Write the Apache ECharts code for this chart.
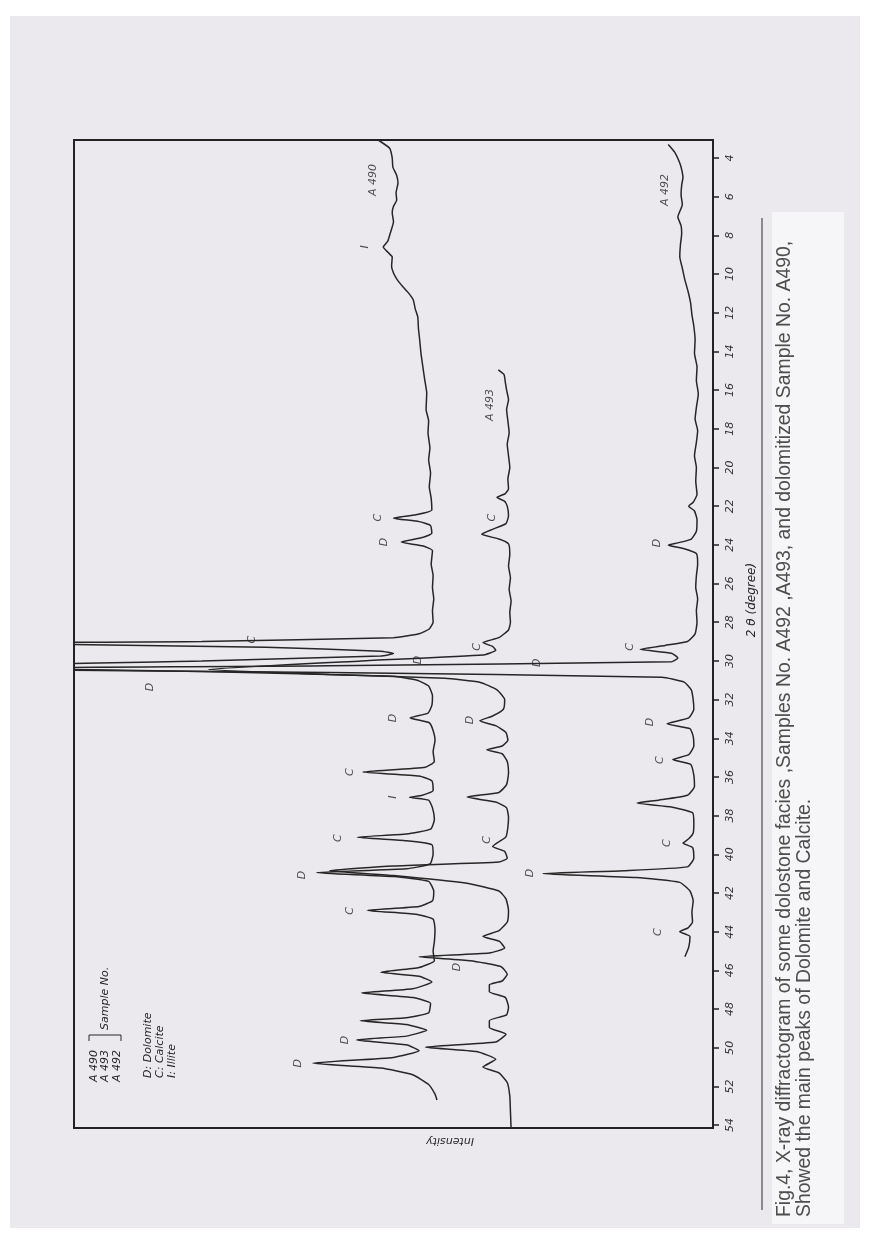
<!DOCTYPE html>
<html>
<head>
<meta charset="utf-8">
<script src="https://cdn.jsdelivr.net/npm/echarts@6/dist/echarts.min.js"></script>
<style>
  html, body { margin: 0; padding: 0; background: #fff; }
  #echarts { width: 886px; height: 1245px; }
</style>
</head>
<body>
<div id="echarts"></div>
<script type="text/javascript">
// 2theta ticks (degree)
var thetaTicks = [4, 6, 8, 10, 12, 14, 16, 18, 20, 22, 24, 26, 28, 30, 32, 34, 36, 38, 40, 42, 44, 46, 48, 50, 52, 54];

// traces: [2theta, intensity]  (intensity 0 = baseline side at the axis, 100 = far side)
var a490 = [
  [3.07, 52.4], [3.5, 50.6], [4.0, 50.2], [4.47, 50.1], [4.9, 49.5], [5.29, 49.3], [5.8, 49.6], [6.17, 49.5],
  [6.5, 50.0], [6.84, 50.2], [7.3, 50.0], [7.88, 50.5], [8.3, 50.9], [8.6, 51.6], [8.9, 50.8], [9.12, 50.2],
  [9.6, 50.3], [9.95, 50.0], [10.3, 49.4], [10.67, 48.5], [11.0, 47.6], [11.34, 46.9], [11.8, 46.6], [12.22, 46.2],
  [12.8, 46.1], [13.41, 45.9], [14.1, 45.7], [14.81, 45.4], [15.5, 45.1], [16.15, 44.8], [17.0, 44.9], [17.6, 44.5],
  [18.2, 44.6], [19.0, 44.3], [19.6, 44.5], [20.3, 44.2], [21.0, 44.4], [21.6, 44.1], [22.2, 44.0], [22.45, 46.5],
  [22.62, 50.0], [22.8, 46.0], [23.0, 44.2], [23.4, 44.0], [23.65, 45.8], [23.86, 48.8], [24.05, 45.5], [24.3, 43.9],
  [25.0, 44.1], [25.6, 43.8], [26.2, 43.9], [26.8, 43.7], [27.4, 43.9], [28.0, 43.8], [28.35, 44.4], [28.6, 46.0],
  [28.8, 50], [29.0, 80], [29.08, 115], [29.3, 70], [29.5, 52], [29.62, 50.0], [29.75, 52], [30.0, 80],
  [30.3, 120], [30.55, 80], [30.8, 50], [31.0, 46.3], [31.3, 44.5], [31.8, 43.9], [32.3, 44.0], [32.7, 44.6],
  [32.95, 47.4], [33.2, 44.4], [33.6, 43.8], [34.1, 43.5], [34.7, 43.8], [35.2, 43.6], [35.5, 45.0], [35.75, 54.8],
  [35.95, 46.0], [36.2, 44.0], [36.7, 43.8], [36.95, 45.5], [37.05, 47.5], [37.2, 44.5], [37.6, 43.9], [38.2, 43.6],
  [38.7, 44.2], [38.95, 48.0], [39.12, 55.7], [39.3, 48.0], [39.5, 44.0], [40.0, 43.8], [40.5, 44.3], [40.75, 48],
  [40.95, 62.0], [41.15, 50], [41.4, 44.5], [41.9, 43.7], [42.4, 43.9], [42.7, 46.0], [42.9, 54.1], [43.1, 46.5],
  [43.35, 43.8], [43.9, 43.5], [44.5, 43.6], [45.0, 43.8], [45.5, 43.6], [45.85, 46], [46.1, 52.0], [46.3, 46],
  [46.6, 44.0], [46.95, 47], [47.17, 55.0], [47.4, 47], [47.7, 44.2], [48.2, 44.5], [48.45, 48], [48.6, 55.2],
  [48.8, 48], [49.1, 44.8], [49.4, 48], [49.6, 55.8], [49.85, 48], [50.15, 46.0], [50.5, 50], [50.8, 62.6],
  [51.05, 52], [51.4, 47], [51.9, 44.5], [52.4, 43.5], [52.7, 43.2]
];
var a493 = [
  [14.96, 33.6], [15.2, 32.7], [15.6, 32.5], [16.0, 32.3], [16.5, 32.0], [17.0, 32.3], [17.6, 32.1], [18.2, 31.9],
  [18.8, 32.2], [19.4, 32.0], [20.0, 31.8], [20.6, 32.1], [21.1, 32.0], [21.35, 32.5], [21.55, 33.8], [21.75, 32.6],
  [22.0, 32.2], [22.5, 32.0], [22.9, 32.4], [23.2, 34.5], [23.45, 36.2], [23.7, 33.5], [23.95, 32.0], [24.5, 31.8],
  [25.1, 32.0], [25.7, 31.7], [26.3, 31.9], [26.9, 31.6], [27.5, 31.8], [28.0, 31.7], [28.4, 32.0], [28.8, 33.5],
  [29.05, 36.0], [29.25, 34.5], [29.45, 34.0], [29.7, 36], [30.0, 55], [30.45, 79], [30.7, 60], [30.9, 42],
  [31.1, 36.5], [31.5, 33.8], [32.0, 32.6], [32.5, 32.8], [32.85, 34.5], [33.1, 36.5], [33.35, 34.0], [33.7, 32.4],
  [34.1, 32.1], [34.4, 33.0], [34.6, 35.4], [34.8, 33.0], [35.2, 32.2], [35.8, 32.0], [36.4, 32.3], [36.8, 33.5],
  [37.04, 38.5], [37.3, 34.0], [37.6, 32.3], [38.1, 32.0], [38.6, 32.1], [39.1, 32.4], [39.35, 33.5], [39.6, 34.5],
  [39.85, 32.6], [40.2, 32.2], [40.4, 33.5], [40.6, 50], [40.85, 60], [41.1, 50], [41.5, 38.5], [41.9, 33.5],
  [42.3, 32.4], [42.9, 32.0], [43.5, 32.2], [43.95, 33.5], [44.25, 36.0], [44.5, 33.4], [44.85, 32.6], [45.1, 35],
  [45.3, 46], [45.5, 38], [45.8, 33.2], [46.2, 32.2], [46.55, 33], [46.75, 35.0], [47.1, 35.0], [47.4, 32.5],
  [47.9, 32.0], [48.3, 32.3], [48.6, 35.0], [48.95, 35.0], [49.3, 32.4], [49.7, 34], [49.97, 45.0], [50.2, 37],
  [50.6, 34], [51.0, 36.0], [51.3, 33.5], [51.8, 32.2], [52.5, 31.8], [53.3, 31.7], [54.15, 31.6]
];
var a492 = [
  [3.3, 7.0], [3.7, 6.0], [4.26, 5.2], [4.6, 4.9], [5.0, 4.7], [5.4, 4.9], [5.9, 5.0], [6.4, 4.8],
  [7.05, 5.5], [7.5, 5.0], [7.9, 4.9], [8.5, 5.1], [9.1, 5.2], [9.7, 4.8], [10.3, 4.4], [10.9, 3.9],
  [11.5, 3.5], [12.1, 3.3], [12.7, 3.0], [13.4, 2.8], [14.1, 2.9], [14.8, 2.5], [15.5, 2.6], [16.2, 2.3],
  [16.9, 2.6], [17.5, 2.8], [18.1, 2.4], [18.7, 2.6], [19.4, 2.9], [20.0, 2.6], [20.7, 2.7], [21.4, 2.5],
  [21.8, 3.1], [22.0, 3.8], [22.25, 2.9], [22.7, 2.5], [23.3, 2.6], [23.7, 3.4], [23.9, 5.5], [24.02, 7.0],
  [24.2, 4.5], [24.45, 2.6], [25.0, 2.4], [25.6, 2.6], [26.2, 2.7], [26.8, 2.4], [27.4, 2.6], [28.0, 2.5],
  [28.6, 2.8], [29.0, 4.0], [29.2, 7.5], [29.4, 11.4], [29.6, 6.5], [29.85, 5.5], [30.05, 6.5], [30.25, 60],
  [30.4, 125], [30.6, 60], [30.85, 8.0], [31.1, 4.5], [31.5, 3.4], [32.0, 3.1], [32.5, 3.0], [32.95, 3.8],
  [33.25, 7.2], [33.5, 3.6], [33.9, 3.1], [34.4, 3.0], [34.85, 3.8], [35.1, 6.3], [35.35, 3.5], [35.9, 3.0],
  [36.5, 2.9], [36.95, 4.0], [37.2, 8.5], [37.35, 11.9], [37.55, 6.5], [37.85, 3.2], [38.4, 3.0], [38.9, 3.1],
  [39.2, 3.8], [39.42, 4.7], [39.65, 3.2], [40.2, 3.0], [40.65, 4.0], [40.85, 14], [41.0, 26.6], [41.2, 12],
  [41.45, 5.2], [41.9, 3.6], [42.4, 3.1], [43.0, 3.3], [43.5, 3.2], [43.8, 3.9], [44.0, 5.2], [44.25, 3.6],
  [44.8, 3.8], [45.3, 4.4]
];

// peak and sample labels: [2theta, intensity, text]
var peakLabels = [
  [5.14, 53.2, 'A 490'], [5.65, 7.5, 'A 492'], [16.77, 34.9, 'A 493'],
  [8.6, 54.5, 'I'], [22.6, 52.4, 'C'], [23.86, 51.5, 'D'], [22.6, 34.6, 'C'], [23.9, 8.8, 'D'],
  [28.9, 72.1, 'C'], [31.35, 88.1, 'D'], [29.96, 46.2, 'D'], [29.28, 36.9, 'C'], [30.1, 27.5, 'D'],
  [29.28, 13.0, 'C'], [32.96, 50.1, 'D'], [33.06, 38.0, 'D'], [33.16, 9.9, 'D'], [35.75, 56.8, 'C'],
  [35.13, 8.3, 'C'], [37.04, 50.1, 'I'], [39.16, 58.7, 'C'], [39.26, 35.4, 'C'], [39.42, 7.2, 'C'],
  [41.07, 64.3, 'D'], [40.97, 28.6, 'D'], [42.93, 56.8, 'C'], [44.02, 8.6, 'C'], [45.83, 40.1, 'D'],
  [49.6, 57.6, 'D'], [50.8, 64.9, 'D']
];

var samples = ['A 490', 'A 493', 'A 492'];
var minerals = ['D: Dolomite', 'C: Calcite', 'I: Illite'];
var caption1 = 'Fig.4, X-ray diffractogram of some dolostone facies ,Samples No. A492 ,A493, and dolomitized Sample No. A490,';
var caption2 = 'Showed the main peaks of Dolomite and Calcite.';

function pts(arr) {
  return arr.map(function (p) { return [p[1], p[0]]; });
}

var ink = '#262626';
var hand = 'italic 11px "DejaVu Sans"';
var capFont = '19.4px "Liberation Sans"';

var thechart = echarts.init(document.getElementById('echarts'), null, { renderer: 'canvas' });

var graphics = [
  { type: 'rect', z: -10, shape: { x: 10, y: 16, width: 850, height: 1212 }, style: { fill: '#ebe9ee' } },
  { type: 'rect', z: -9, shape: { x: 772, y: 212, width: 72, height: 1012 }, style: { fill: '#f6f5f7' } },
  { type: 'line', z: 5, shape: { x1: 762, y1: 218, x2: 762, y2: 1210 }, style: { stroke: '#4a4a4a', lineWidth: 1.2 } },
  { type: 'text', z: 5, x: 785, y: 1217, rotation: Math.PI / 2,
    style: { text: caption1, font: capFont, fill: '#4e4e4e', align: 'left', verticalAlign: 'middle' } },
  { type: 'text', z: 5, x: 805, y: 1217, rotation: Math.PI / 2,
    style: { text: caption2, font: capFont, fill: '#4e4e4e', align: 'left', verticalAlign: 'middle' } },
  { type: 'text', z: 5, x: 752, y: 600, rotation: Math.PI / 2,
    style: { text: '2 θ (degree)', font: 'italic 12px "DejaVu Sans"', fill: ink, align: 'center', verticalAlign: 'middle' } },
  { type: 'text', z: 5, x: 450, y: 1141, rotation: Math.PI,
    style: { text: 'Intensity', font: hand, fill: ink, align: 'center', verticalAlign: 'middle' } },
  { type: 'polyline', z: 5, shape: { points: [[89, 1041], [89, 1035], [121, 1035], [121, 1041]] },
    style: { stroke: ink, lineWidth: 1, fill: null } },
  { type: 'text', z: 5, x: 105, y: 1030, rotation: Math.PI / 2,
    style: { text: 'Sample No.', font: hand, fill: ink, align: 'left', verticalAlign: 'middle' } }
];
samples.forEach(function (s, i) {
  graphics.push({ type: 'text', z: 5, x: 94 + i * 11.5, y: 1082, rotation: Math.PI / 2,
    style: { text: s, font: hand, fill: ink, align: 'left', verticalAlign: 'middle' } });
});
minerals.forEach(function (s, i) {
  graphics.push({ type: 'text', z: 5, x: 148 + i * 12, y: 1078, rotation: Math.PI / 2,
    style: { text: s, font: hand, fill: ink, align: 'left', verticalAlign: 'middle' } });
});

function trace(name, arr) {
  return {
    name: name, type: 'line', data: pts(arr), symbol: 'none', smooth: 0.15, clip: true,
    lineStyle: { color: ink, width: 1.5 }, emphasis: { disabled: true }, silent: true
  };
}

var theoption = {
  backgroundColor: '#ffffff',
  animation: false,
  grid: { left: 74, right: 173, top: 140, bottom: 117, show: true, borderColor: '#222', borderWidth: 2, backgroundColor: 'transparent' },
  xAxis: {
    type: 'value', inverse: true, min: 0, max: 100,
    axisLine: { show: false }, axisTick: { show: false }, axisLabel: { show: false }, splitLine: { show: false }
  },
  yAxis: {
    type: 'value', inverse: true, min: 3.07, max: 54.15, position: 'right',
    axisLine: { show: true, lineStyle: { color: '#222', width: 2 } },
    axisTick: { show: true, customValues: thetaTicks, length: 6, lineStyle: { color: '#222', width: 1.5 } },
    axisLabel: { show: true, customValues: thetaTicks, rotate: 90, margin: 12, fontSize: 11, fontStyle: 'italic', fontFamily: 'DejaVu Sans', color: '#333' },
    splitLine: { show: false }
  },
  graphic: graphics,
  series: [
    trace('A 490', a490),
    trace('A 493', a493),
    trace('A 492', a492),
    {
      type: 'scatter', symbolSize: 0, silent: true, z: 4,
      data: peakLabels.map(function (l) { return [l[1], l[0], l[2]]; }),
      label: { show: true, position: 'inside', rotate: 90, formatter: function (p) { return p.value[2]; },
        fontSize: 11, fontStyle: 'italic', fontFamily: 'DejaVu Sans', color: ink }
    }
  ]
};
thechart.setOption(theoption, true);
</script>
</body>
</html>
